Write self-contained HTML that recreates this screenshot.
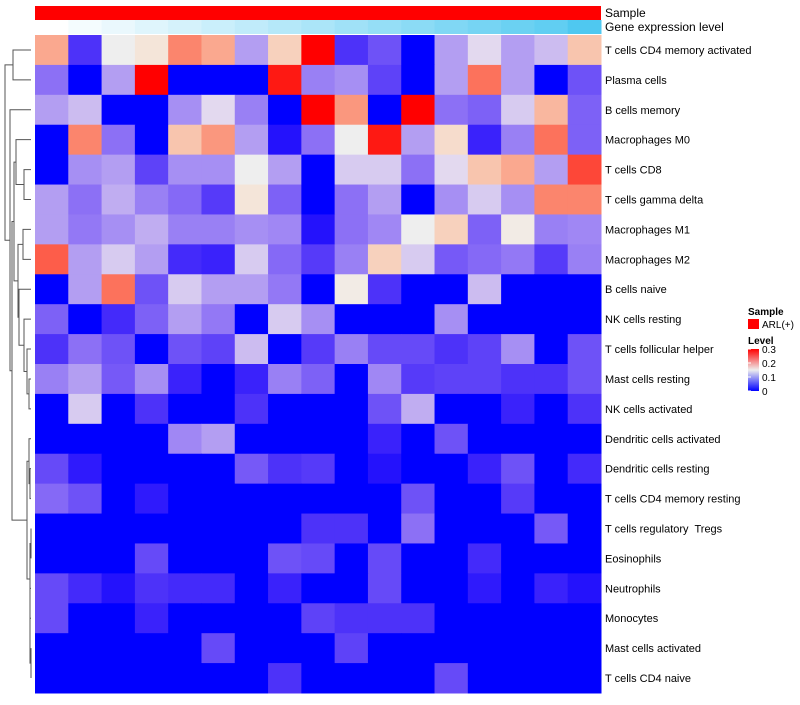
<!DOCTYPE html>
<html><head><meta charset="utf-8"><style>
body{margin:0;background:#fff;font-family:"Liberation Sans",sans-serif;}
svg text{font-family:"Liberation Sans",sans-serif;white-space:pre;}
</style></head><body>
<svg id="chart" width="800" height="700"></svg>
<script>
const rowLabels=["T cells CD4 memory activated","Plasma cells","B cells memory","Macrophages M0","T cells CD8","T cells gamma delta","Macrophages M1","Macrophages M2","B cells naive","NK cells resting","T cells follicular helper","Mast cells resting","NK cells activated","Dendritic cells activated","Dendritic cells resting","T cells CD4 memory resting","T cells regulatory  Tregs","Eosinophils","Neutrophils","Monocytes","Mast cells activated","T cells CD4 naive"];
const values=[
[.22,.03,.15,.17,.24,.22,.1,.19,.3,.03,.05,0,.1,.14,.1,.12,.2],
[.07,0,.1,.3,0,0,0,.29,.08,.09,.04,0,.1,.25,.1,0,.05],
[.1,.12,0,0,.09,.14,.08,0,.3,.23,0,.3,.07,.06,.13,.21,.06],
[0,.24,.07,0,.2,.23,.1,.01,.07,.15,.29,.1,.18,.02,.08,.25,.06],
[0,.09,.1,.04,.09,.09,.15,.1,0,.13,.13,.07,.14,.2,.22,.1,.27],
[.1,.07,.11,.08,.065,.035,.17,.06,0,.07,.1,0,.09,.13,.09,.24,.24],
[.1,.075,.09,.11,.08,.08,.09,.085,.01,.07,.085,.15,.19,.06,.16,.08,.085],
[.26,.1,.13,.1,.025,.02,.13,.065,.035,.08,.19,.13,.055,.065,.075,.035,.08],
[0,.1,.25,.05,.13,.1,.1,.075,0,.16,.03,0,0,.12,0,0,0],
[.06,0,.025,.06,.1,.075,0,.13,.09,0,0,0,.09,0,0,0,0],
[.03,.07,.05,0,.05,.04,.12,0,.035,.08,.045,.045,.03,.04,.09,0,.05],
[.08,.1,.055,.09,.02,0,.02,.08,.06,0,.085,.035,.04,.04,.03,.03,.05],
[0,.13,0,.03,0,0,.03,0,0,0,.05,.11,0,0,.02,0,.03],
[0,0,0,0,.085,.1,0,0,0,0,.02,0,.05,0,0,0,0],
[.045,.015,0,0,0,0,.055,.03,.035,0,.01,0,0,.02,.05,0,.025],
[.065,.05,0,.015,0,0,0,0,0,0,0,.05,0,0,.035,0,0],
[0,0,0,0,0,0,0,0,.03,.03,0,.07,0,0,0,.055,0],
[0,0,0,.045,0,0,0,.05,.045,0,.045,0,0,.025,0,0,0],
[.045,.025,.01,.03,.025,.025,0,.02,0,0,.045,0,0,.015,0,.02,.01],
[.045,0,0,.02,0,0,0,0,.04,.03,.03,.03,0,0,0,0,0],
[0,0,0,0,0,.045,0,0,0,.04,0,0,0,0,0,0,0],
[0,0,0,0,0,0,0,.03,0,0,0,0,.045,0,0,0,0]
];
const geneLevel=[0,.06,.12,.18,.24,.3,.36,.42,.48,.54,.6,.66,.72,.78,.84,.9,1];
const legendTicks=[0,0.1,0.2,0.3];

const NS="http://www.w3.org/2000/svg";
const svg=document.getElementById('chart');
const X0=35,X1=601,Y0=35,Y1=693;
const nC=values[0].length,nR=values.length;
const cw=(X1-X0)/nC,rh=(Y1-Y0)/nR;
const xc=c=>X0+c*cw, yr=r=>Y0+r*rh;
function lerp(a,b,t){return Math.round(a+(b-a)*t);}
function col(v){
  const t=Math.max(0,Math.min(1,v/0.3));
  if(t<0.5){const u=Math.pow(t/0.5,0.7);return `rgb(${lerp(0,238,u)},${lerp(0,232,Math.pow(t/0.5,0.95))},${lerp(255,238,u)})`;}
  const w=(t-0.5)/0.5;const u=Math.pow(w,1.6);const ub=Math.pow(u,0.75);
  return `rgb(${lerp(238,255,Math.sqrt(w))},${lerp(238,0,u)},${lerp(238,0,ub)})`;
}
function mk(tag,attrs){const e=document.createElementNS(NS,tag);for(const k in attrs)e.setAttribute(k,attrs[k]);svg.appendChild(e);return e;}
let e=mk('rect',{x:X0,y:6,width:X1-X0,height:14,fill:'#ff0000'});


geneLevel.forEach((g,c)=>{
  const r=mk('rect',{x:xc(c),y:20,width:cw+0.5,height:14,fill:`rgb(${lerp(255,79,g)},${lerp(255,200,g)},${lerp(255,240,g)})`});
  
  
});
let t=mk('text',{x:605,y:17,'font-size':12,fill:'#000'});t.textContent='Sample';


t=mk('text',{x:605,y:31,'font-size':12,fill:'#000'});t.textContent='Gene expression level';


values.forEach((row,r)=>row.forEach((v,c)=>{
  const el=mk('rect',{x:xc(c),y:yr(r),width:cw+0.5,height:rh+0.5,fill:col(v)});
  
  
}));
rowLabels.forEach((l,r)=>{
  const el=mk('text',{x:605,y:yr(r)+rh/2+4,'font-size':11,fill:'#000'});el.textContent=l;
  
  
});
const cy=r=>yr(r)+rh/2;
function node(a,b,x){return {y:(a.y+b.y)/2,x:x,a:a,b:b};}
const L=[...Array(nR).keys()].map(r=>({y:cy(r),x:31}));
function drawN(n){
  if(!n.a)return;
  mk('path',{d:`M${n.a.x},${n.a.y}H${n.x}V${n.b.y}H${n.b.x}`,fill:'none',stroke:'#555','stroke-width':1});
  drawN(n.a);drawN(n.b);
}
const A=node(L[0],L[1],13);
const B=node(L[4],L[5],24);const C=node(L[3],B,16);
const D=node(L[6],L[7],23);
const F=node(L[10],node(L[11],L[12],29),27);
const G=node(L[9],F,24);const H=node(L[8],G,19);
const I=node(D,H,18);const J=node(C,I,14);
const K1=node(L[13],node(L[14],L[15],30),29);
const K2=node(node(L[16],L[17],31),node(L[18],node(L[19],node(L[20],L[21],31),30),30),30);
const K=node(K1,K2,27);
const LL=node(J,K,12);const M=node(L[2],LL,10);
const root=node(A,M,5);
drawN(root);
t=mk('text',{x:748,y:315,'font-size':10,'font-weight':'bold'});t.textContent='Sample';


e=mk('rect',{x:748,y:319,width:11,height:10,fill:'#ff0000'});


t=mk('text',{x:762,y:328,'font-size':10});t.textContent='ARL(+)';


t=mk('text',{x:748,y:344,'font-size':10,'font-weight':'bold'});t.textContent='Level';


const defs=mk('defs',{});
defs.innerHTML='<linearGradient id="lg" x1="0" y1="1" x2="0" y2="0"><stop offset="0" stop-color="#0000ff"/><stop offset="0.5" stop-color="#eeeeee"/><stop offset="1" stop-color="#ff0000"/></linearGradient>';
const LY0=391,LY1=349;
e=mk('rect',{x:748,y:LY1,width:11,height:LY0-LY1,fill:'url(#lg)'});


legendTicks.forEach(v=>{
  const y=LY0-(v/0.3)*(LY0-LY1);
  mk('line',{x1:748,x2:751,y1:y,y2:y,stroke:'#fff'});
  const tt=mk('text',{x:762,y:y+4,'font-size':10});tt.textContent=String(v);
  
  
});
</script>
</body></html>
